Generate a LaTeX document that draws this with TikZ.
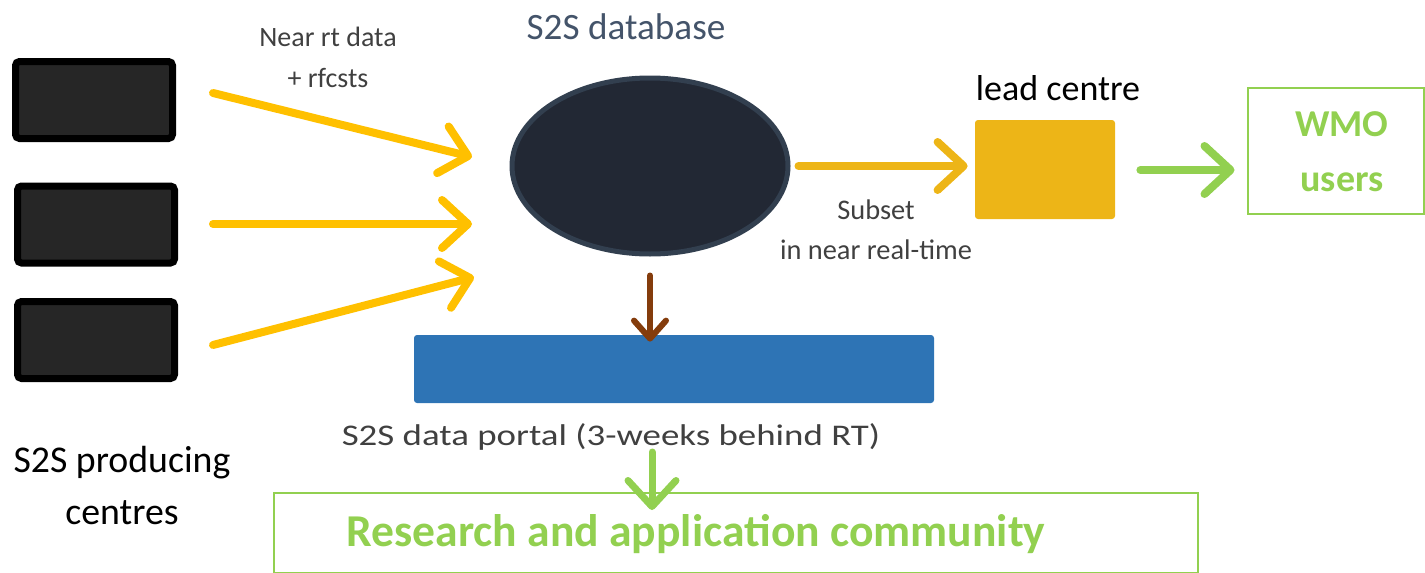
\documentclass[tikz,border=0pt]{standalone}
\usepackage{fontspec}
\setmainfont{Carlito}
\usetikzlibrary{arrows.meta,shapes.geometric}
\definecolor{yel}{HTML}{FFC000}
\definecolor{gold}{HTML}{EDB517}
\definecolor{grn}{HTML}{92D050}
\definecolor{brn}{HTML}{843C0C}
\definecolor{blu}{HTML}{2E74B5}
\definecolor{navy}{HTML}{222834}
\definecolor{navyb}{HTML}{323F4F}
\definecolor{slate}{HTML}{44546A}
\definecolor{txt}{HTML}{404040}
\tikzset{
  prod/.style={draw=black, fill=black!85, line width=3.5pt, rounded corners=2pt,
    minimum width=78.5pt, minimum height=38.5pt, inner sep=0pt},
  yarrow/.style={draw=yel, line width=4pt, line cap=round,
    -{Straight Barb[length=13pt, width=24pt, line cap=round, line join=round]}},
  garrow/.style={draw=grn, line width=4pt, line cap=round,
    -{Straight Barb[length=13pt, width=24pt, line cap=round, line join=round]}},
  barrow/.style={draw=brn, line width=3pt, line cap=round,
    -{Straight Barb[length=9pt, width=16pt, line cap=round, line join=round]}},
  lbl/.style={align=center, inner sep=0pt, text=txt},
}
\begin{document}
\begin{tikzpicture}[x=0.5pt, y=-0.5pt]
\useasboundingbox (0,0) rectangle (1425,573);

% producing centres
\node[prod] (p1) at (94,100) {};
\node[prod] (p2) at (96,224.5) {};
\node[prod] (p3) at (96,340) {};
\node[lbl, text=black, font=\fontsize{18.9pt}{26pt}\selectfont] (plab) at (122,486) {S2S producing\\centres};

% database
\node[ellipse, draw=navyb, fill=navy, line width=2.5pt, minimum width=138pt, minimum height=88pt, inner sep=0pt] (db) at (650,166) {};
\node[lbl, text=slate, font=\fontsize{18.6pt}{20pt}\selectfont] (dblab) at (626,27) {S2S database};

\coordinate (a1s) at (213,93);  \coordinate (a1e) at (472,157);
\coordinate (a2s) at (213,224); \coordinate (a2e) at (472,224);
\coordinate (a3s) at (213,345); \coordinate (a3e) at (474,277);
\draw[yarrow] (a1s) -- (a1e);
\draw[yarrow] (a2s) -- (a2e);
\draw[yarrow] (a3s) -- (a3e);
\node[lbl, font=\fontsize{14pt}{20.5pt}\selectfont] (nrt) at (328,57) {Near rt data\\+ rfcsts};

% lead centre
\node[fill=gold, rounded corners=1.5pt, minimum width=70pt, minimum height=49.5pt, inner sep=0pt] (lc) at (1045,169.5) {};
\node[lbl, text=black, font=\fontsize{18pt}{20pt}\selectfont] (lclab) at (1058,88) {lead centre};
\draw[yarrow, draw=gold] ([xshift=4pt]db.east) -- ([xshift=-3.5pt]db.east -| lc.west);
\node[lbl, font=\fontsize{14.2pt}{20pt}\selectfont] (sub) at (876,230) {Subset\\in near real-time};

% WMO users
\node[draw=grn, line width=1pt, minimum width=88pt, minimum height=63pt, inner sep=0pt] (wmo) at (1335.5,150.5) {};
\node[lbl, text=grn, font=\bfseries\fontsize{19pt}{27.5pt}\selectfont] (wmolab) at (1342,152) {WMO\\users};
\draw[garrow] ([xshift=12.5pt,yshift=-0.25pt]lc.east) -- ([xshift=-6pt,yshift=-0.25pt]lc.east -| wmo.west);

% data portal
\node[fill=blu, rounded corners=1.5pt, minimum width=260pt, minimum height=34pt, inner sep=0pt] (portal) at (674,369) {};
\draw[barrow] ([yshift=-9.5pt]db.south) -- ([yshift=-3.5pt]db.south |- portal.north);
\node[lbl, font=\fontsize{15pt}{20pt}\selectfont] (plabel) at (611,437) {\scalebox{1.23}[1]{S2S data portal (3-weeks behind RT)}};

% research community
\node[draw=grn, line width=1pt, minimum width=462pt, minimum height=40pt, inner sep=0pt] (res) at (735.5,533) {};
\node[lbl, text=grn, font=\bfseries\fontsize{22.8pt}{24pt}\selectfont] (reslab) at (696,534) {Research and application community};
\coordinate (g2s) at (652,452);
\coordinate (g2e) at (652,510);
\draw[garrow, line width=3.5pt] (g2s) -- (g2e);
\end{tikzpicture}
\end{document}
